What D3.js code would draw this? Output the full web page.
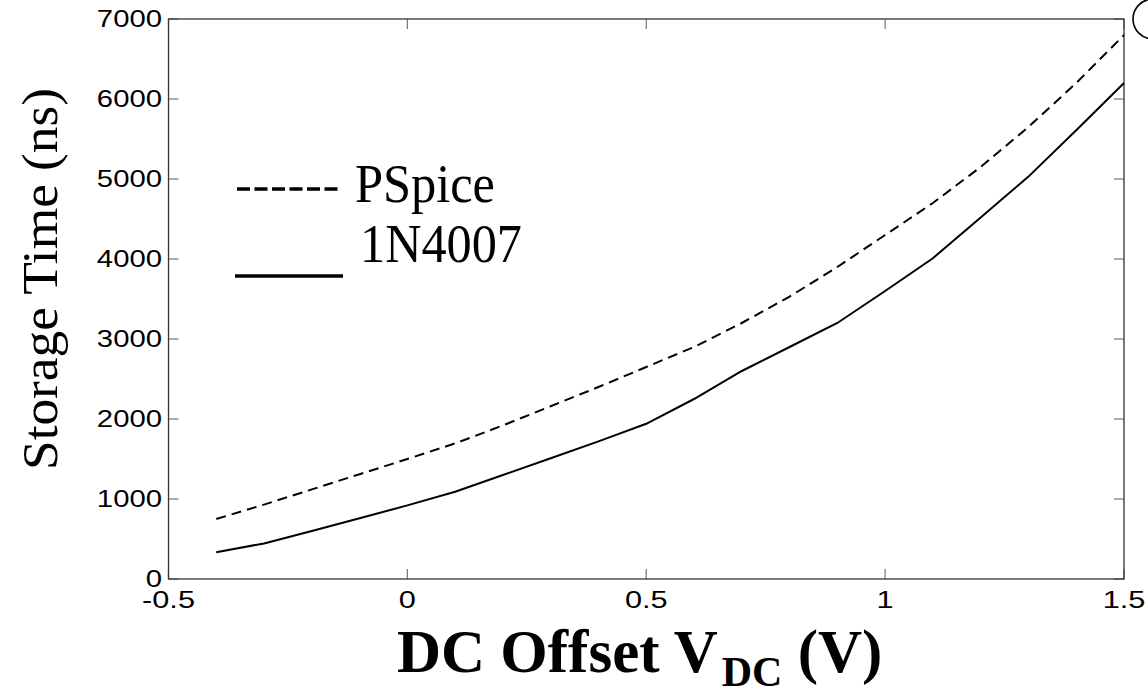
<!DOCTYPE html>
<html>
<head>
<meta charset="utf-8">
<script src="https://cdn.jsdelivr.net/npm/d3@7"></script>
<style>
  html, body { margin: 0; padding: 0; background: #fff; }
  svg { display: block; }
</style>
</head>
<body>
<svg id="chart" width="1148" height="697"></svg>
<script>
// DC offset sweep (V)
const offsets = [-0.4, -0.3, -0.2, -0.1, 0, 0.1, 0.2, 0.3, 0.4, 0.5, 0.6, 0.7, 0.8, 0.9, 1.0, 1.1, 1.2, 1.3, 1.4, 1.5];
// Storage time (ns), PSpice simulation
const pspice = [750, 930, 1120, 1310, 1500, 1695, 1920, 2160, 2400, 2650, 2900, 3200, 3530, 3900, 4300, 4700, 5150, 5650, 6200, 6800];
// Storage time (ns), measured 1N4007
const n4007 = [335, 445, 600, 760, 920, 1090, 1300, 1510, 1720, 1940, 2250, 2600, 2900, 3200, 3600, 4010, 4520, 5030, 5610, 6200];

const xTicks = [-0.5, 0, 0.5, 1, 1.5];
const xTickLabels = ["-0.5", "0", "0.5", "1", "1.5"];
const yTicks = [0, 1000, 2000, 3000, 4000, 5000, 6000, 7000];
const legendNames = ["PSpice", "1N4007"];

const svg = d3.select("#chart");
const L = 168.5, R = 1124, T = 19, B = 579;

const x = d3.scaleLinear().domain([-0.5, 1.5]).range([L, R]);
const y = d3.scaleLinear().domain([0, 7000]).range([B, T]);

const tickColor = "#777";
const sansFont = "'Liberation Sans', Arial, sans-serif";
const serifFont = "'Liberation Serif', 'Times New Roman', serif";

// inward ticks on all four sides
const tickLen = 10;
const gTicks = svg.append("g").attr("stroke", tickColor).attr("stroke-width", 1.2);
xTicks.forEach(v => {
  gTicks.append("line").attr("x1", x(v)).attr("x2", x(v)).attr("y1", B).attr("y2", B - tickLen);
  gTicks.append("line").attr("x1", x(v)).attr("x2", x(v)).attr("y1", T).attr("y2", T + tickLen);
});
yTicks.forEach(v => {
  gTicks.append("line").attr("x1", L).attr("x2", L + tickLen).attr("y1", y(v)).attr("y2", y(v));
  gTicks.append("line").attr("x1", R).attr("x2", R - tickLen).attr("y1", y(v)).attr("y2", y(v));
});

// plot frame
svg.append("rect")
  .attr("x", L).attr("y", T).attr("width", R - L).attr("height", B - T)
  .attr("fill", "none").attr("stroke", "#333").attr("stroke-width", 1.3);

// tick labels (wide sans face)
const gLab = svg.append("g").attr("font-family", sansFont).attr("font-size", 24).attr("fill", "#000");
xTicks.forEach((v, i) => {
  gLab.append("text")
    .attr("transform", `translate(${x(v)},${608}) scale(1.28,1)`)
    .attr("text-anchor", "middle")
    .text(xTickLabels[i]);
});
yTicks.forEach(v => {
  gLab.append("text")
    .attr("transform", `translate(${162},${y(v) + 8}) scale(1.22,1)`)
    .attr("text-anchor", "end")
    .text(d3.format("d")(v));
});

// data lines
const line = d3.line().x(d => x(d[0])).y(d => y(d[1]));
svg.append("path")
  .datum(offsets.map((o, i) => [o, pspice[i]]))
  .attr("d", line)
  .attr("fill", "none").attr("stroke", "#000").attr("stroke-width", 2)
  .attr("stroke-dasharray", "10,6");
svg.append("path")
  .datum(offsets.map((o, i) => [o, n4007[i]]))
  .attr("d", line)
  .attr("fill", "none").attr("stroke", "#000").attr("stroke-width", 2);

// legend
svg.append("line").attr("x1", 237).attr("x2", 339).attr("y1", 189).attr("y2", 189)
  .attr("stroke", "#000").attr("stroke-width", 3.5).attr("stroke-dasharray", "13,4.5");
svg.append("line").attr("x1", 235).attr("x2", 343).attr("y1", 276).attr("y2", 276)
  .attr("stroke", "#000").attr("stroke-width", 3.5);
svg.append("text").attr("x", 355).attr("y", 202)
  .attr("font-family", serifFont).attr("font-size", 54)
  .attr("textLength", 140).attr("lengthAdjust", "spacingAndGlyphs")
  .text(legendNames[0]);
svg.append("text").attr("x", 360).attr("y", 262)
  .attr("font-family", serifFont).attr("font-size", 54)
  .attr("textLength", 162).attr("lengthAdjust", "spacingAndGlyphs")
  .text(legendNames[1]);

// y-axis title
svg.append("text")
  .attr("transform", "translate(57,279) rotate(-90)")
  .attr("text-anchor", "middle")
  .attr("font-family", serifFont).attr("font-size", 50)
  .attr("textLength", 382).attr("lengthAdjust", "spacingAndGlyphs")
  .text("Storage Time (ns)");

// x-axis title with subscript
const xt = svg.append("text")
  .attr("x", 397).attr("y", 672)
  .attr("font-family", serifFont).attr("font-weight", "bold").attr("font-size", 61);
xt.append("tspan").text("DC Offset V");
xt.append("tspan").attr("font-size", 42).attr("dx", 4).attr("dy", 14).text("DC");
xt.append("tspan").attr("dy", -14).text(" (V)");

// circled panel marker at the upper right corner
svg.append("ellipse")
  .attr("cx", 1153).attr("cy", 19).attr("rx", 20).attr("ry", 20)
  .attr("fill", "none").attr("stroke", "#000").attr("stroke-width", 1.6);
</script>
</body>
</html>
